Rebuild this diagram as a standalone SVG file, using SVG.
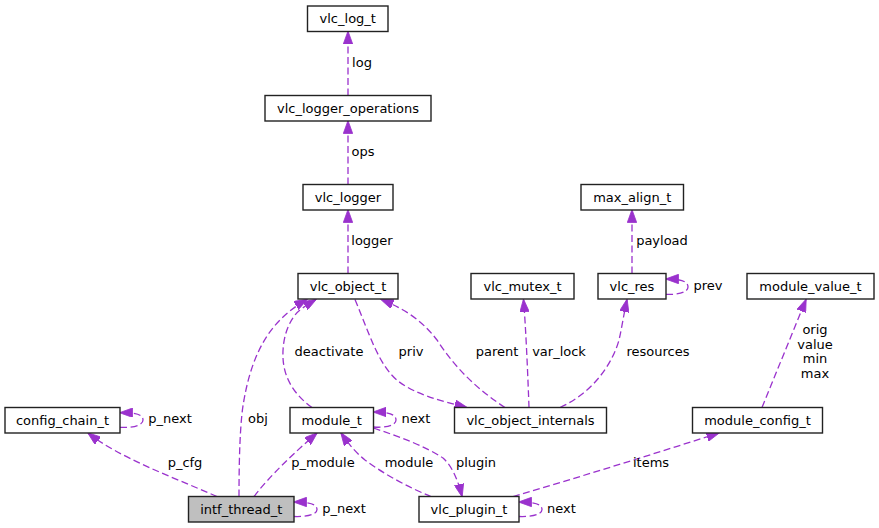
<svg xmlns="http://www.w3.org/2000/svg" width="879" height="528" viewBox="0 0 879 528">
<style>
.n rect{fill:#fff;stroke:#222;stroke-width:1.4}
.n text,.lbl text{font-family:"DejaVu Sans",sans-serif;font-size:13px;fill:#000;text-anchor:middle}
.e{fill:none;stroke:#9a32cd;stroke-width:1.3;stroke-dasharray:7,3.5;marker-end:url(#ah)}
</style>
<defs>
<marker id="ah" viewBox="0 0 13 9.4" refX="12.5" refY="4.7" markerWidth="13" markerHeight="9.4" orient="auto" markerUnits="userSpaceOnUse">
<path d="M0,0 L13,4.7 L0,9.4 Z" fill="#9a32cd" stroke="#9a32cd" stroke-width="0.8"/>
</marker>
</defs>
<rect width="879" height="528" fill="#fff"/>
<g id="connectors">
<path class="e" d="M348,95.5 L348,31.5"/>
<path class="e" d="M348,184.5 L348,121"/>
<path class="e" d="M348,273.5 L348,210"/>
<path class="e" d="M632,273.5 L632,210"/>
<path class="e" d="M666,294.3 C677,295 688,292.5 688,287 C688,281 680,279 666,279"/>
<path class="e" d="M529,407.5 C528,380 526,330 523.5,299.5"/>
<path class="e" d="M560,407.5 C592,393 612,365 619,340 C622,327 624,313 627,299.5"/>
<path class="e" d="M505,407.5 C478,390 455,368 437,340 C420,318 402,308 381,299.5"/>
<path class="e" d="M355,299.5 C368,330 378,365 398,381 C415,394 440,401 467,407.5"/>
<path class="e" d="M312,407.5 C296,396 284,380 283,358 C282,336 290,318 300,310 C305,306 310,303 316,299.5"/>
<path class="e" d="M239,496.5 C239,460 240,420 244,400 C250,365 262,338 280,320 C288,312 297,305 307,299.5"/>
<path class="e" d="M373.5,427 C384,428 396,426 396,420 C396,414 388,412 373.5,412"/>
<path class="e" d="M120,427.3 C131,428 143,426 143,420 C143,414 135,412.7 120,412.7"/>
<path class="e" d="M294,516.5 C305,517 317,515 317,509.5 C317,504 309,502 294,502"/>
<path class="e" d="M519,516.5 C530,517 542,515 542,509.5 C542,504 534,502 519,502"/>
<path class="e" d="M373.5,428 C400,437 425,446 443,458 C452,466 458,480 462,496.5"/>
<path class="e" d="M431,496.5 C410,488 385,475 365,460 C355,452 348,443 341,433"/>
<path class="e" d="M254,496.5 C262,486 280,465 317,433"/>
<path class="e" d="M217,496.5 C170,476 120,458 88,433"/>
<path class="e" d="M513,496.5 C580,477 650,455 719,433"/>
<path class="e" d="M762,407.5 L806,299.5"/>
</g>
<g class="lbl" id="labels">
<text x="362" y="67">log</text>
<text x="363" y="156">ops</text>
<text x="372" y="245">logger</text>
<text x="662" y="245">payload</text>
<text x="708" y="290">prev</text>
<text x="815" y="334">orig</text>
<text x="815" y="348.5">value</text>
<text x="815" y="363">min</text>
<text x="815" y="377.5">max</text>
<text x="329" y="356">deactivate</text>
<text x="411" y="356">priv</text>
<text x="497" y="356">parent</text>
<text x="559" y="356">var_lock</text>
<text x="658" y="356">resources</text>
<text x="258" y="423">obj</text>
<text x="170" y="423">p_next</text>
<text x="416" y="423">next</text>
<text x="185" y="467">p_cfg</text>
<text x="323" y="467">p_module</text>
<text x="409" y="467">module</text>
<text x="476" y="467">plugin</text>
<text x="651" y="467">items</text>
<text x="344" y="512.5">p_next</text>
<text x="561.5" y="512.5">next</text>
</g>
<g class="n" id="vlc_log_t"><rect x="307.5" y="6" width="80.5" height="25.5"/><text x="347.75" y="23">vlc_log_t</text></g>
<g class="n" id="vlc_logger_operations"><rect x="265" y="95.5" width="166" height="25.5"/><text x="348" y="112.5">vlc_logger_operations</text></g>
<g class="n" id="vlc_logger"><rect x="303" y="184.5" width="90" height="25.5"/><text x="348" y="201.5">vlc_logger</text></g>
<g class="n" id="vlc_object_t"><rect x="298" y="273.5" width="100" height="25.5"/><text x="348" y="290.5">vlc_object_t</text></g>
<g class="n" id="vlc_mutex_t"><rect x="471" y="273.5" width="103" height="25.5"/><text x="522.5" y="290.5">vlc_mutex_t</text></g>
<g class="n" id="vlc_res"><rect x="598" y="273.5" width="68" height="25.5"/><text x="632" y="290.5">vlc_res</text></g>
<g class="n" id="max_align_t"><rect x="581" y="184.5" width="102.5" height="25.5"/><text x="632.25" y="201.5">max_align_t</text></g>
<g class="n" id="module_value_t"><rect x="747" y="273.5" width="127" height="25.5"/><text x="810.5" y="290.5">module_value_t</text></g>
<g class="n" id="config_chain_t"><rect x="5" y="407.5" width="115" height="25.5"/><text x="62.5" y="424.5">config_chain_t</text></g>
<g class="n" id="module_t"><rect x="290" y="407.5" width="83.5" height="25.5"/><text x="331.75" y="424.5">module_t</text></g>
<g class="n" id="vlc_object_internals"><rect x="454.5" y="407.5" width="152" height="25.5"/><text x="530.5" y="424.5">vlc_object_internals</text></g>
<g class="n" id="module_config_t"><rect x="692.5" y="407.5" width="130" height="25.5"/><text x="757.5" y="424.5">module_config_t</text></g>
<g class="n" id="intf_thread_t"><rect x="188.5" y="496.5" width="105.5" height="25.5" style="fill:#bfbfbf"/><text x="241.25" y="513.5">intf_thread_t</text></g>
<g class="n" id="vlc_plugin_t"><rect x="419" y="496.5" width="100" height="25.5"/><text x="469" y="513.5">vlc_plugin_t</text></g>
</svg>
